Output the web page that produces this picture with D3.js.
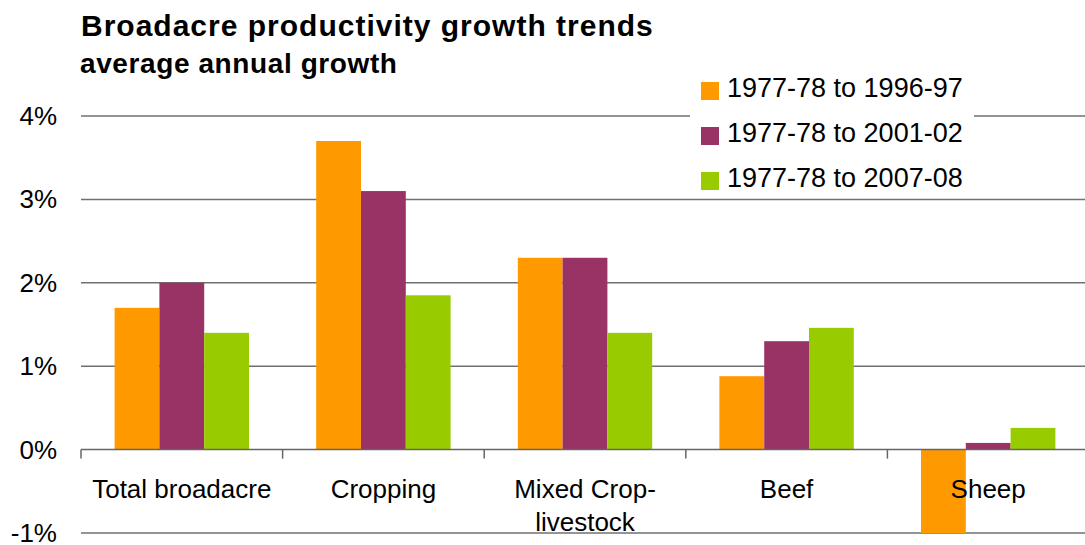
<!DOCTYPE html>
<html>
<head>
<meta charset="utf-8">
<script src="https://cdn.jsdelivr.net/npm/d3@7"></script>
<style>
  html, body { margin: 0; padding: 0; background: #fff; }
  svg { display: block; font-family: "Liberation Sans", Arial, sans-serif; }
</style>
</head>
<body>
<svg id="chart" width="1085" height="545"></svg>
<script>
// Sector categories (each label may wrap onto two lines)
const categories = ["Total broadacre", "Cropping", "Mixed Crop-livestock", "Beef", "Sheep"];
const categoryLines = [["Total broadacre"], ["Cropping"], ["Mixed Crop-", "livestock"], ["Beef"], ["Sheep"]];

// Average annual productivity growth (%) for each period
const seriesNames = ["1977-78 to 1996-97", "1977-78 to 2001-02", "1977-78 to 2007-08"];
const growth1997 = [1.70, 3.70, 2.30, 0.88, -1.00];
const growth2002 = [2.00, 3.10, 2.30, 1.30, 0.08];
const growth2008 = [1.40, 1.85, 1.40, 1.46, 0.26];
const seriesColors = ["#FF9900", "#993366", "#99CC00"];

const yTicks = [-1, 0, 1, 2, 3, 4];

const seriesValues = [growth1997, growth2002, growth2008];

const svg = d3.select("#chart");

const plot = { left: 81, right: 1089, top: 116, bottom: 533 };

const x0 = d3.scaleBand()
  .domain(categories)
  .range([plot.left, plot.right])
  .paddingInner(0)
  .paddingOuter(0);

const x1 = d3.scaleBand()
  .domain(seriesNames)
  .range([0, x0.bandwidth()])
  .paddingInner(0)
  .paddingOuter(0.75);

const y = d3.scaleLinear()
  .domain([-1, 4])
  .range([plot.bottom, plot.top]);

// Horizontal gridlines
svg.append("g")
  .selectAll("line")
  .data(yTicks.filter(t => t !== 0))
  .join("line")
  .attr("x1", plot.left)
  .attr("x2", plot.right)
  .attr("y1", d => y(d))
  .attr("y2", d => y(d))
  .attr("stroke", "#707070")
  .attr("stroke-width", 1.5);

// Y axis tick labels
svg.append("g")
  .selectAll("text")
  .data(yTicks)
  .join("text")
  .attr("x", 57)
  .attr("y", d => y(d) + 9)
  .attr("text-anchor", "end")
  .attr("font-size", 26)
  .attr("fill", "#000")
  .text(d => d + "%");

// Bars
const rows = categories.map((c, i) => ({
  category: c,
  values: seriesNames.map((s, j) => ({ series: s, value: seriesValues[j][i], color: seriesColors[j] }))
}));

svg.append("g")
  .selectAll("g")
  .data(rows)
  .join("g")
  .attr("transform", d => `translate(${x0(d.category)},0)`)
  .selectAll("rect")
  .data(d => d.values)
  .join("rect")
  .attr("x", d => x1(d.series))
  .attr("width", x1.bandwidth())
  .attr("y", d => y(Math.max(0, d.value)))
  .attr("height", d => Math.abs(y(d.value) - y(0)))
  .attr("fill", d => d.color);

// Category axis along zero
const xAxis = svg.append("g");
xAxis.append("line")
  .attr("x1", plot.left)
  .attr("x2", plot.right)
  .attr("y1", y(0))
  .attr("y2", y(0))
  .attr("stroke", "#666")
  .attr("stroke-width", 1.5);

const boundaries = categories.map(c => x0(c)).concat([x0(categories[categories.length - 1]) + x0.bandwidth()]);
xAxis.selectAll("line.tick")
  .data(boundaries)
  .join("line")
  .attr("class", "tick")
  .attr("x1", d => d)
  .attr("x2", d => d)
  .attr("y1", y(0))
  .attr("y2", y(0) + 9)
  .attr("stroke", "#666")
  .attr("stroke-width", 1.5);

// Category labels
xAxis.selectAll("text.cat")
  .data(categories)
  .join("text")
  .attr("class", "cat")
  .attr("x", d => x0(d) + x0.bandwidth() / 2)
  .attr("y", y(0) + 48)
  .attr("text-anchor", "middle")
  .attr("font-size", 26)
  .attr("fill", "#000")
  .each(function(d, i) {
    const t = d3.select(this);
    categoryLines[i].forEach((line, k) => {
      t.append("tspan")
        .attr("x", x0(d) + x0.bandwidth() / 2)
        .attr("dy", k === 0 ? 0 : 33)
        .text(line);
    });
  });

// Title and subtitle
svg.append("text")
  .attr("x", 81)
  .attr("y", 36)
  .attr("font-size", 30)
  .attr("font-weight", "bold")
  .attr("letter-spacing", 1)
  .attr("fill", "#000")
  .text("Broadacre productivity growth trends");

svg.append("text")
  .attr("x", 80)
  .attr("y", 73)
  .attr("font-size", 28)
  .attr("font-weight", "bold")
  .attr("letter-spacing", 0.6)
  .attr("fill", "#000")
  .text("average annual growth");

// Legend
const legend = svg.append("g");
legend.append("rect")
  .attr("x", 690)
  .attr("y", 70)
  .attr("width", 284)
  .attr("height", 126)
  .attr("fill", "#fff");

const legendItems = legend.selectAll("g.item")
  .data(seriesNames)
  .join("g")
  .attr("class", "item")
  .attr("transform", (d, i) => `translate(701,${82 + i * 45})`);

legendItems.append("rect")
  .attr("width", 18)
  .attr("height", 18)
  .attr("fill", (d, i) => seriesColors[i]);

legendItems.append("text")
  .attr("x", 26)
  .attr("y", 15)
  .attr("font-size", 27)
  .attr("fill", "#000")
  .text(d => d);
</script>
</body>
</html>
